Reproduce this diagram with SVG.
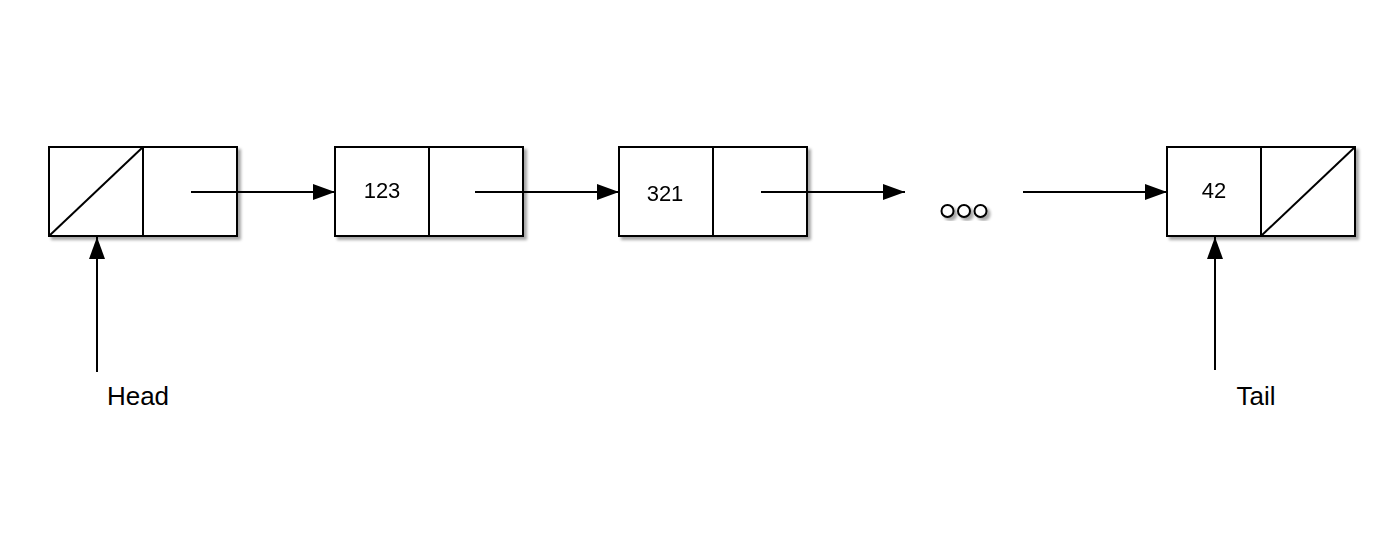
<svg xmlns="http://www.w3.org/2000/svg" width="1400" height="560" viewBox="0 0 1400 560">
<style>
.box{fill:#fff;stroke:#000;stroke-width:2}
.ln{fill:none;stroke:#000;stroke-width:2}
.con{fill:none;stroke:#000;stroke-width:2;marker-end:url(#ah)}
.t{font-family:"Liberation Sans",Arial,sans-serif;fill:#000;text-anchor:middle}
.dot{fill:#fff;stroke:#000;stroke-width:2}
</style>
<defs>
<marker id="ah" viewBox="0 0 22 16" refX="22" refY="8" markerWidth="22" markerHeight="16" markerUnits="userSpaceOnUse" orient="auto">
<path d="M0,0 L22,8 L0,16 Z" fill="#000"/>
</marker>
<filter id="sh" x="-10%" y="-10%" width="130%" height="140%">
<feGaussianBlur in="SourceAlpha" stdDeviation="1.5"/>
<feOffset dx="3" dy="3" result="b"/>
<feComponentTransfer><feFuncA type="linear" slope="0.35"/></feComponentTransfer>
<feMerge><feMergeNode/><feMergeNode in="SourceGraphic"/></feMerge>
</filter>
</defs>
<rect width="1400" height="560" fill="#fff"/>
<g id="node1" filter="url(#sh)">
<rect class="box" x="49" y="147" width="188" height="89"/>
<line class="ln" x1="143" y1="147" x2="143" y2="236"/>
<line class="ln" x1="49" y1="236" x2="143" y2="147"/>
</g>
<g id="node2" filter="url(#sh)">
<rect class="box" x="335" y="147" width="188" height="89"/>
<line class="ln" x1="429" y1="147" x2="429" y2="236"/>
<text class="t" x="382" y="198" font-size="22">123</text>
</g>
<g id="node3" filter="url(#sh)">
<rect class="box" x="619" y="147" width="188" height="89"/>
<line class="ln" x1="713" y1="147" x2="713" y2="236"/>
<text class="t" x="665" y="201" font-size="22">321</text>
</g>
<g id="ellipsis" filter="url(#sh)">
<circle class="dot" cx="947.5" cy="211" r="6"/>
<circle class="dot" cx="964" cy="211" r="6"/>
<circle class="dot" cx="980.5" cy="211" r="6"/>
</g>
<g id="node4" filter="url(#sh)">
<rect class="box" x="1167" y="147" width="188" height="89"/>
<line class="ln" x1="1261" y1="147" x2="1261" y2="236"/>
<line class="ln" x1="1261" y1="236" x2="1355" y2="147"/>
<text class="t" x="1214" y="198" font-size="22">42</text>
</g>
<g id="head"><text class="t" x="138" y="405" font-size="26">Head</text></g>
<g id="tail"><text class="t" x="1256" y="405" font-size="26">Tail</text></g>
<g id="connectors">
<line class="con" x1="191" y1="192" x2="335" y2="192"/>
<line class="con" x1="475" y1="192" x2="619" y2="192"/>
<line class="con" x1="761" y1="192" x2="905" y2="192"/>
<line class="con" x1="1023" y1="192" x2="1167" y2="192"/>
<line class="con" x1="97" y1="372" x2="97" y2="237"/>
<line class="con" x1="1215" y1="370" x2="1215" y2="237"/>
</g>
</svg>
